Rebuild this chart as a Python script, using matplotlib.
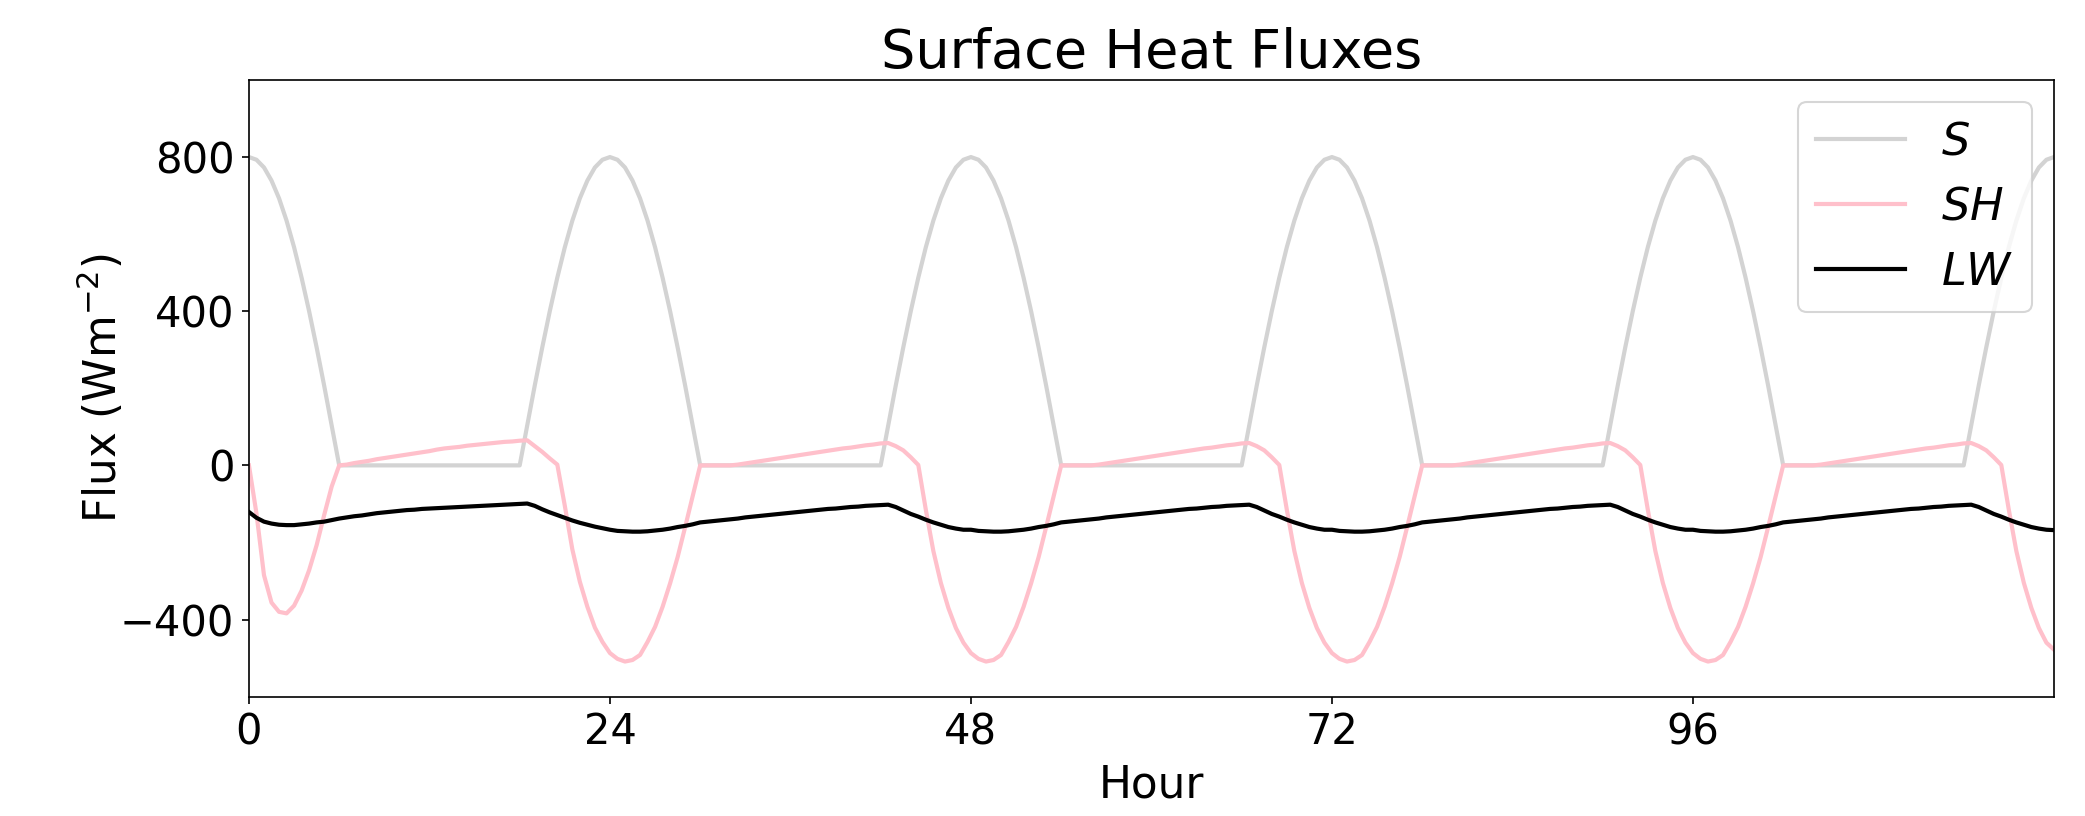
import numpy as np
import matplotlib
matplotlib.use("Agg")
import matplotlib.pyplot as plt

# half-hourly time axis, 0 to 120 h
hours = np.arange(0, 120.5, 0.5)

# solar flux, one day (0 .. 23.5 h), the same every day
s_day = [800, 793, 773, 739, 693, 635, 566, 487, 400, 306, 207, 104, 0,
         0, 0, 0, 0, 0, 0, 0, 0, 0, 0, 0, 0, 0, 0, 0, 0, 0, 0, 0, 0, 0, 0, 0,
         0, 104, 207, 306, 400, 487, 566, 635, 693, 739, 773, 793]

# sensible heat, first day and following days
sh_day1 = [0, -125, -285, -356, -380, -384, -364, -325, -272, -207, -129, -55, 0,
           2, 6, 9, 12, 16, 19, 22, 25, 28, 31, 34, 37, 41, 44, 46, 48, 51, 53,
           55, 57, 59, 61, 62, 64,
           65, 50, 35, 18, 2, -105, -218, -302, -367, -421, -458]
sh_dayn = [-487, -502, -509, -505, -492, -458, -419, -367, -306, -238, -160, -80, 0,
           0, 0, 0, 0, 2, 5, 8, 11, 14, 17, 20, 23, 26, 29, 32, 35, 38, 41,
           44, 46, 49, 52, 54, 57,
           58, 50, 39, 21, 1, -115, -222, -305, -370, -422, -460]

# longwave
lw_day1 = [-121, -136, -146, -151, -154, -155, -155, -153, -151, -148, -146, -142, -138,
           -135, -132, -130, -127, -124, -122, -120, -118, -116, -115, -113, -112,
           -111, -110, -109, -108, -107, -106, -105, -104, -103, -102, -101, -100,
           -99, -105, -114, -122, -129, -136, -143, -149, -154, -159, -163]
lw_dayn = [-167, -170, -171, -172, -172, -171, -169, -167, -164, -160, -157, -153, -148,
           -146, -144, -142, -140, -138, -135, -133, -131, -129, -127, -125, -123,
           -121, -119, -117, -115, -113, -112, -110, -108, -107, -105, -104, -103,
           -102, -108, -117, -126, -133, -141, -148, -154, -160, -164, -167]

S = s_day * 5 + [800]
SH = sh_day1 + sh_dayn * 4 + [-478]
LW = lw_day1 + lw_dayn * 4 + [-168]

fig = plt.figure(figsize=(13.9, 5.44), dpi=150)
ax = fig.add_axes([0.1194, 0.1463, 0.8657, 0.7557])

ax.plot(hours, S, color='lightgrey', lw=2, label='$S$')
ax.plot(hours, SH, color='pink', lw=2, label='$SH$')
ax.plot(hours, LW, color='black', lw=2, label='$LW$')

ax.set_xlim(0, 120)
ax.set_ylim(-600, 1000)
ax.set_xticks([0, 24, 48, 72, 96])
ax.set_yticks([-400, 0, 400, 800])
ax.tick_params(labelsize=20)
ax.set_xlabel('Hour', fontsize=21, labelpad=5)
ax.set_ylabel('Flux (Wm$^{-2}$)', fontsize=21, labelpad=-3)
ax.set_title('Surface Heat Fluxes', fontsize=26)
ax.legend(loc='upper right', fontsize=21.5)

fig.savefig('out.png', dpi=150)
